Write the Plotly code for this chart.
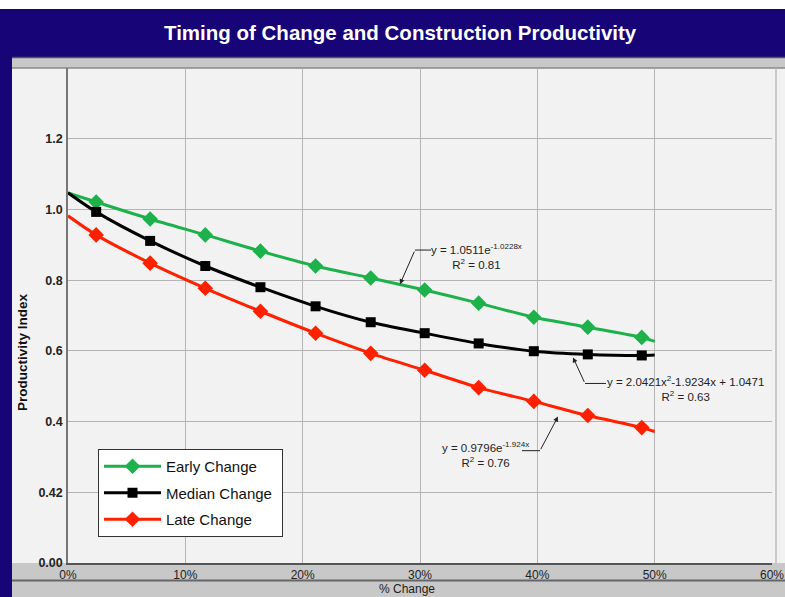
import plotly.graph_objects as go

# ---------------- data ----------------
pct_change = [2.4, 7.0, 11.7, 16.4, 21.1, 25.8, 30.4, 35.0, 39.7, 44.3, 48.9]
early_change = [1.021, 0.973, 0.928, 0.882, 0.840, 0.806, 0.772, 0.735, 0.695, 0.667, 0.638]
median_change = [0.993, 0.911, 0.840, 0.780, 0.726, 0.681, 0.650, 0.621, 0.599, 0.590, 0.587]
late_change = [0.928, 0.848, 0.777, 0.712, 0.650, 0.593, 0.545, 0.496, 0.457, 0.417, 0.383]

# trend line end values (at 0% and 50%)
trend_x_ends = [0, 50]
early_trend_ends = [1.047, 0.627]
median_trend_ends = [1.047, 0.588]
late_trend_ends = [0.982, 0.372]

x_ticks = [0, 10, 20, 30, 40, 50, 60]
x_tick_labels = ["0%", "10%", "20%", "30%", "40%", "50%", "60%"]
y_ticks = [0, 0.2, 0.4, 0.6, 0.8, 1.0, 1.2]
y_tick_labels = ["0.00", "0.42", "0.4", "0.6", "0.8", "1.0", "1.2"]

series_names = ["Early Change", "Median Change", "Late Change"]

# ---------------- styling ----------------
W, H = 785, 597
L, R, T, B = 68, 772, 68, 563
FONT = "Arial, Liberation Sans, sans-serif"
NAVY = "#170577"
GREEN = "#1db14b"
RED = "#ff2000"
BLACK = "#000000"
PANEL = "#f2f2f2"
STRIP = "#c8c8c8"


def px(xp):
    return (xp - L) / (R - L)


def py(yp):
    return (B - yp) / (B - T)


fig = go.Figure()

series = [
    (series_names[0], early_change, early_trend_ends, GREEN, "diamond", 12),
    (series_names[1], median_change, median_trend_ends, BLACK, "square", 10),
    (series_names[2], late_change, late_trend_ends, RED, "diamond", 12),
]

for i, (name, vals, ends, col, sym, ms) in enumerate(series):
    lx = [trend_x_ends[0]] + pct_change + [trend_x_ends[1]]
    ly = [ends[0]] + vals + [ends[1]]
    fig.add_trace(go.Scatter(x=lx, y=ly, mode="lines",
                             line=dict(color=col, width=3, shape="spline", smoothing=0.8),
                             showlegend=False, hoverinfo="skip"))
    fig.add_trace(go.Scatter(x=pct_change, y=vals, mode="markers",
                             marker=dict(color=col, symbol=sym, size=ms),
                             showlegend=False, name=name))
    fig.add_trace(go.Scatter(x=[None], y=[None], mode="lines+markers", name=name + "\u00a0",
                             line=dict(color=col, width=3),
                             marker=dict(color=col, symbol=sym, size=ms),
                             legendgroup=name))

shapes = [
    # navy frame
    dict(type="rect", xref="paper", yref="paper", x0=px(0), x1=px(W), y0=py(9), y1=py(57),
         fillcolor=NAVY, line=dict(width=0), layer="below"),
    dict(type="rect", xref="paper", yref="paper", x0=px(0), x1=px(12), y0=py(9), y1=py(H),
         fillcolor=NAVY, line=dict(width=0), layer="below"),
    # light panel
    dict(type="rect", xref="paper", yref="paper", x0=px(12), x1=px(W), y0=py(57), y1=py(H),
         fillcolor=PANEL, line=dict(width=0), layer="below"),
    # top gray strip
    dict(type="rect", xref="paper", yref="paper", x0=px(12), x1=px(W), y0=py(57.5), y1=py(68),
         fillcolor=STRIP, line=dict(width=0), layer="below"),
    dict(type="line", xref="paper", yref="paper", x0=px(12), x1=px(W), y0=py(57.5), y1=py(57.5),
         line=dict(color="#555555", width=1.5), layer="below"),
    dict(type="line", xref="paper", yref="paper", x0=px(12), x1=px(W), y0=py(68), y1=py(68),
         line=dict(color="#888888", width=1.5), layer="below"),
    # bottom tick strip and title strip
    dict(type="rect", xref="paper", yref="paper", x0=px(12), x1=px(W), y0=py(563), y1=py(H),
         fillcolor=STRIP, line=dict(width=0), layer="below"),
    dict(type="line", xref="paper", yref="paper", x0=px(12), x1=px(W), y0=py(580.5), y1=py(580.5),
         line=dict(color="#666666", width=2), layer="below"),
    # right vertical separator
    dict(type="line", xref="paper", yref="paper", x0=px(776), x1=px(776), y0=py(68), y1=py(563),
         line=dict(color="#bbbbbb", width=1.5), layer="below"),
]


def dx(xp):
    return (xp - L) / (R - L) * 60


def dy(yp):
    return (562 - yp) / 352.5


ANN_COL = "#222222"
# elbow connector segments
for (x0, y0, x1, y1) in [(415, 250, 431, 250), (585, 383, 606, 383), (522, 450, 540, 450)]:
    shapes.append(dict(type="line", xref="x", yref="y", x0=dx(x0), y0=dy(y0), x1=dx(x1), y1=dy(y1),
                       line=dict(color=ANN_COL, width=1)))

annotations = [
    dict(text="<b>Timing of Change and Construction Productivity</b>", xref="paper", yref="paper",
         x=px(400), y=py(33), showarrow=False, font=dict(family=FONT, size=20.5, color="white"),
         xanchor="center", yanchor="middle"),
    dict(text="<b>Productivity Index</b>", xref="paper", yref="paper", x=px(23), y=py(352),
         textangle=-90, showarrow=False, font=dict(family=FONT, size=13.5, color="#111111"),
         xanchor="center", yanchor="middle"),
    dict(text="% Change", xref="paper", yref="paper", x=px(407), y=py(589), showarrow=False,
         font=dict(family=FONT, size=12, color="#222222"), xanchor="center", yanchor="middle"),
    # fit labels
    dict(text="y = 1.0511e<sup>-1.0228x</sup><br>R<sup>2</sup> = 0.81", xref="x", yref="y",
         x=dx(476), y=dy(256), showarrow=False, align="center",
         font=dict(family=FONT, size=11.5, color=ANN_COL), xanchor="center", yanchor="middle"),
    dict(text="y = 2.0421x<sup>2</sup>-1.9234x + 1.0471<br>R<sup>2</sup> = 0.63", xref="x", yref="y",
         x=dx(685), y=dy(388), showarrow=False, align="center",
         font=dict(family=FONT, size=11.5, color=ANN_COL), xanchor="center", yanchor="middle"),
    dict(text="y = 0.9796e<sup>-1.924x</sup><br>R<sup>2</sup> = 0.76", xref="x", yref="y",
         x=dx(485), y=dy(454), showarrow=False, align="center",
         font=dict(family=FONT, size=11.5, color=ANN_COL), xanchor="center", yanchor="middle"),
]

# arrows (tip -> elbow)
for (tx, ty, ex, ey) in [(400, 284, 415, 250), (573, 357, 585, 383), (558, 416, 540, 450)]:
    annotations.append(dict(text="", x=dx(tx), y=dy(ty), xref="x", yref="y",
                            ax=dx(ex), ay=dy(ey), axref="x", ayref="y",
                            showarrow=True, arrowhead=2, arrowsize=1, arrowwidth=1,
                            arrowcolor=ANN_COL))

fig.update_layout(
    width=W, height=H,
    autosize=False,
    margin=dict(l=L, r=W - R, t=T, b=H - B, pad=0),
    paper_bgcolor="white",
    plot_bgcolor=PANEL,
    font=dict(family=FONT, color="#222222"),
    shapes=shapes,
    annotations=annotations,
    showlegend=True,
    legend=dict(x=px(98), y=py(449), xanchor="left", yanchor="top",
                bgcolor="white", bordercolor="#333333", borderwidth=1,
                font=dict(family=FONT, size=15, color="#111111"),
                itemwidth=57, tracegroupgap=4, traceorder="grouped"),
    xaxis=dict(range=[0, 60], tickvals=x_ticks, ticktext=x_tick_labels,
               showgrid=True, gridcolor="#b4b4b4", gridwidth=1,
               zeroline=False, showline=True, linecolor="#555555", linewidth=1.5,
               ticks="", tickfont=dict(family=FONT, size=12, color="#222222"),
               fixedrange=True, automargin=False),
    yaxis=dict(range=[0, 1.4], tickvals=y_ticks, ticktext=y_tick_labels,
               showgrid=True, gridcolor="#b4b4b4", gridwidth=1,
               zeroline=False, showline=True, linecolor="#777777", linewidth=1.5,
               ticks="", ticklabelstandoff=1,
               tickfont=dict(family=FONT, size=12.5, color="#222222", weight="bold"),
               fixedrange=True, automargin=False),
)

fig.write_html("out.html", config={"displayModeBar": False},
               post_script="document.body.style.margin='0';document.body.style.overflow='hidden';")
